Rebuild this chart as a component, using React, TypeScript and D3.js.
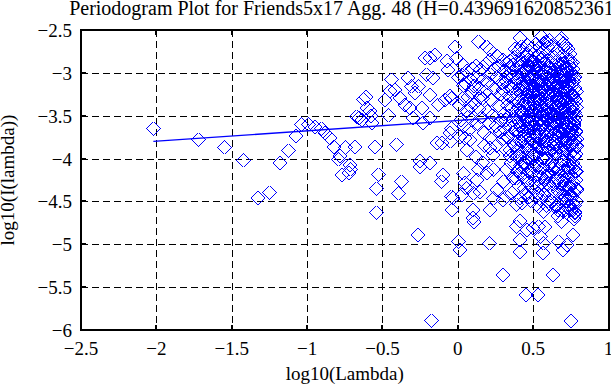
import React from 'react';
import * as d3 from 'd3';

const titleText = 'Periodogram Plot for Friends5x17 Agg. 48 (H=0.439691620852361)';
const xLabelText = 'log10(Lambda)';
const yLabelText = 'log10(I(lambda))';

const xTicks = [-2.5, -2, -1.5, -1, -0.5, 0, 0.5, 1];
const xTickLabels = ['\u22122.5', '\u22122', '\u22121.5', '\u22121', '\u22120.5', '0', '0.5', '1'];
const yTicks = [-6, -5.5, -5, -4.5, -4, -3.5, -3, -2.5];
const yTickLabels = ['\u22126', '\u22125.5', '\u22125', '\u22124.5', '\u22124', '\u22123.5', '\u22123', '\u22122.5'];

// least-squares fit line (log10 lambda, log10 I)
const fitLambda = [-2.02, 0.79];
const fitValues = [-3.8, -3.46];

// low-frequency, sparse part of the periodogram
const sparsePoints: [number, number][] = [
  [-2.02, -3.65], [-1.72, -3.78], [-1.549, -3.87], [-1.423, -4.02], [-1.323, -4.46], [-1.25, -4.4],
  [-1.18, -4.05], [-1.124, -3.91], [-1.073, -3.74], [-1.036, -3.6], [-0.99, -3.6], [-0.947, -3.63],
  [-0.906, -3.65], [-0.88, -3.7], [-0.848, -3.76], [-0.821, -3.86], [-0.793, -4.01], [-0.781, -3.97],
  [-0.77, -4.19], [-0.744, -3.87], [-0.72, -4.17], [-0.715, -4.07], [-0.71, -4.125], [-0.682, -3.86],
  [-0.67, -3.51], [-0.655, -3.53], [-0.638, -3.55], [-0.627, -3.31], [-0.609, -3.285], [-0.604, -3.41],
  [-0.582, -3.45], [-0.575, -3.507], [-0.571, -3.585], [-0.549, -3.86], [-0.538, -4.35], [-0.542, -4.63],
  [-0.527, -4.19], [-0.483, -3.313], [-0.46, -3.495], [-0.45, -3.216], [-0.438, -3.08], [-0.416, -3.196],
  [-0.405, -3.838], [-0.383, -3.294], [-0.372, -4.27], [-0.394, -4.405], [-0.35, -3.37], [-0.328, -3.06],
  [-0.317, -3.41], [-0.306, -3.157], [-0.295, -3.527], [-0.284, -3.235], [-0.262, -3.157], [-0.262, -4.892],
  [-0.25, -4.03], [-0.25, -4.095], [-0.24, -3.41], [-0.228, -3.585], [-0.217, -2.827], [-0.206, -3.02],
  [-0.184, -2.827], [-0.184, -3.255], [-0.184, -3.527], [-0.184, -4.05], [-0.173, -5.892], [-0.162, -3.06],
  [-0.151, -2.788], [-0.14, -3.818], [-0.129, -3.37], [-0.107, -3.82], [-0.107, -4.27], [-0.097, -4.19],
  [-0.085, -3.317], [-0.07, -2.86], [-0.065, -2.97], [-0.051, -3.8], [-0.05, -3.27], [-0.05, -3.7],
  [-0.04, -3.647], [-0.04, -3.297], [-0.04, -4.445], [-0.04, -4.6], [-0.03, -4.46], [-0.018, -2.694],
  [-0.007, -2.83],
];

// mid-frequency points
const midPoints: [number, number][] = [
  [0.004, -4.97], [0.015, -5.067], [0.015, -3.745], [0.026, -4.425], [0.035, -2.91], [0.037, -4.17],
  [0.038, -3.142], [0.048, -3.76], [0.048, -4.29], [0.059, -4.347], [0.07, -3.51], [0.081, -3.783],
  [0.093, -3.22], [0.1, -2.95], [0.1, -4.6], [0.1, -4.69], [0.103, -4.405], [0.11, -4.74], [0.126, -4.25],
  [0.136, -2.636], [0.136, -4.13], [0.148, -3.278], [0.148, -4.386], [0.192, -2.694], [0.192, -4.17],
  [0.21, -4.99], [0.214, -2.733], [0.214, -2.85], [0.214, -3.764], [0.214, -3.88], [0.214, -4.6],
  [0.236, -3.96], [0.236, -4.13], [0.236, -4.464], [0.258, -4.367], [0.26, -2.8], [0.28, -3.686],
  [0.298, -5.358], [0.3, -2.85], [0.3, -4.48], [0.302, -4.27], [0.325, -3.045], [0.325, -3.745],
  [0.325, -4.13], [0.325, -4.445], [0.347, -2.86], [0.347, -3.9], [0.347, -3.97], [0.368, -2.908],
  [0.368, -4.23], [0.39, -3.978], [0.39, -4.23], [0.39, -4.54], [0.39, -4.795], [0.4, -2.74],
  [0.413, -2.597], [0.413, -3.706], [0.413, -4.17], [0.413, -4.464], [0.413, -4.73], [0.413, -4.95],
  [0.413, -5.087], [0.424, -2.694], [0.453, -5.592], [0.457, -4.25], [0.457, -4.833], [0.468, -2.85],
  [0.5, -4.814], [0.512, -2.83], [0.524, -4.33], [0.535, -4.795], [0.535, -5.592], [0.535, -4.556],
  [0.547, -4.91], [0.557, -2.578], [0.565, -5.1], [0.567, -2.655], [0.568, -4.99], [0.58, -4.795],
  [0.634, -4.095], [0.634, -5.358], [0.657, -4.56], [0.667, -4.67], [0.668, -4.97], [0.69, -2.597],
  [0.69, -4.736], [0.7, -2.655], [0.7, -4.62], [0.7, -5.067], [0.723, -4.17], [0.723, -5.008],
  [0.745, -4.33], [0.75, -5.892], [0.762, -4.892], [0.778, -4.638], [0.778, -4.67], [0.79, -4.367],
  [0.005, -3.05], [0.012, -3.38], [0.02, -3.55], [0.028, -3.02], [0.033, -3.3], [0.042, -3.62],
  [0.05, -3.12], [0.056, -3.44], [0.063, -2.98], [0.069, -3.28], [0.076, -3.66], [0.083, -3.08],
  [0.088, -3.4], [0.094, -3.55], [0.108, -3.15], [0.114, -3.35], [0.12, -2.92], [0.126, -3.6],
  [0.131, -3.05], [0.14, -3.42], [0.145, -3.18], [0.153, -2.96], [0.158, -3.52], [0.163, -3.3],
  [0.17, -3.08], [0.176, -3.7], [0.182, -3.22], [0.187, -2.9], [0.196, -3.45], [0.202, -3.12],
  [0.207, -3.58], [0.219, -3.02], [0.225, -3.32], [0.23, -3.5], [0.24, -2.95], [0.245, -3.18],
  [0.252, -3.62], [0.262, -3.05], [0.268, -3.38], [0.274, -2.92], [0.283, -3.25], [0.288, -3.55],
  [0.293, -3.12], [0.296, -3.78], [0.176, -3.85], [0.06, -3.9], [0.12, -3.98], [0.255, -3.85],
  [0.165, -4.05],
];

// high-frequency, dense part
const densePoints: [number, number][] = [
  [0.302, -3.2], [0.305, -3.48], [0.308, -2.98], [0.311, -3.65], [0.314, -3.3], [0.317, -3.9],
  [0.32, -3.1], [0.323, -3.55], [0.327, -2.88], [0.33, -3.38], [0.333, -3.75], [0.336, -3.15],
  [0.339, -3.5], [0.342, -3.02], [0.345, -3.62], [0.348, -3.28], [0.351, -4.05], [0.354, -2.95],
  [0.357, -3.42], [0.36, -3.18], [0.363, -3.7], [0.366, -3.05], [0.369, -3.55], [0.372, -3.32],
  [0.375, -2.82], [0.378, -3.85], [0.381, -3.12], [0.384, -3.48], [0.387, -3.0], [0.39, -3.66],
  [0.393, -3.25], [0.396, -3.92], [0.399, -3.08], [0.402, -3.4], [0.405, -2.9], [0.408, -3.58],
  [0.411, -3.2], [0.414, -3.8], [0.417, -3.02], [0.42, -3.45], [0.423, -3.3], [0.426, -4.1],
  [0.429, -2.85], [0.432, -3.62], [0.435, -3.15], [0.438, -3.5], [0.441, -2.98], [0.444, -3.72],
  [0.447, -3.35], [0.45, -3.1], [0.453, -3.88], [0.456, -3.25], [0.459, -2.78], [0.462, -3.55],
  [0.465, -3.05], [0.468, -3.42], [0.471, -3.68], [0.474, -2.92], [0.477, -3.3], [0.48, -4.0],
  [0.483, -3.15], [0.486, -3.58], [0.489, -2.88], [0.492, -3.4], [0.495, -3.78], [0.498, -3.22],
  [0.44, -4.35], [0.47, -4.45], [0.36, -4.4], [0.485, -4.18], [0.395, -4.15], [0.445, -4.05],
  [0.38, -2.72], [0.46, -2.68], [0.49, -2.72], [0.43, -2.75],
  [0.502, -3.05], [0.504, -3.62], [0.506, -2.88], [0.508, -3.41], [0.51, -3.95], [0.512, -3.18],
  [0.514, -3.72], [0.516, -2.95], [0.518, -3.5], [0.52, -3.28], [0.522, -4.05], [0.524, -3.1],
  [0.526, -3.58], [0.528, -2.8], [0.53, -3.35], [0.532, -3.85], [0.534, -3.0], [0.536, -3.66],
  [0.538, -3.22], [0.54, -4.15], [0.542, -2.92], [0.544, -3.46], [0.546, -3.78], [0.548, -3.12],
  [0.55, -3.55], [0.552, -2.85], [0.554, -3.3], [0.556, -3.9], [0.558, -3.08], [0.56, -3.7],
  [0.562, -3.4], [0.564, -2.76], [0.566, -3.6], [0.568, -3.2], [0.57, -4.0], [0.572, -3.02],
  [0.574, -3.48], [0.576, -3.82], [0.578, -2.98], [0.58, -3.36], [0.582, -3.65], [0.584, -3.15],
  [0.586, -4.22], [0.588, -2.9], [0.59, -3.52], [0.592, -3.25], [0.594, -3.75], [0.596, -3.05],
  [0.598, -3.42], [0.6, -2.7], [0.602, -3.88], [0.604, -3.18], [0.606, -3.58], [0.608, -3.0],
  [0.61, -3.32], [0.612, -4.08], [0.614, -2.86], [0.616, -3.68], [0.618, -3.45], [0.62, -3.12],
  [0.622, -3.8], [0.624, -2.95], [0.626, -3.38], [0.628, -3.62], [0.63, -3.22], [0.632, -4.3],
  [0.634, -3.05], [0.636, -3.5], [0.638, -2.82], [0.64, -3.72], [0.642, -3.28], [0.644, -3.95],
  [0.646, -3.1], [0.648, -3.55], [0.65, -2.92], [0.652, -3.4], [0.654, -3.85], [0.656, -3.15],
  [0.658, -3.65], [0.66, -2.74], [0.662, -3.3], [0.664, -4.12], [0.666, -3.02], [0.668, -3.48],
  [0.67, -3.76], [0.672, -3.2], [0.674, -2.88], [0.676, -3.58], [0.678, -3.35], [0.68, -4.4],
  [0.682, -3.08], [0.684, -3.7], [0.686, -2.98], [0.688, -3.44], [0.69, -3.9], [0.692, -3.25],
  [0.694, -2.8], [0.696, -3.62], [0.698, -3.12], [0.7, -4.02], [0.7015, -3.38], [0.703, -2.9],
  [0.7045, -3.78], [0.706, -3.52], [0.7075, -3.05], [0.709, -4.25], [0.7105, -3.3], [0.712, -2.72],
  [0.7135, -3.66], [0.715, -3.18], [0.7165, -3.88], [0.718, -3.45], [0.7195, -2.95], [0.721, -4.5],
  [0.7225, -3.22], [0.724, -3.6], [0.7255, -3.0], [0.727, -3.8], [0.7285, -3.35], [0.73, -4.1],
  [0.7315, -2.85], [0.733, -3.5], [0.7345, -3.15], [0.736, -3.72], [0.7375, -4.35], [0.739, -3.08],
  [0.7405, -3.42], [0.742, -2.78], [0.7435, -3.95], [0.745, -3.28], [0.7465, -3.65], [0.748, -4.2],
  [0.7495, -3.02], [0.751, -3.55], [0.7525, -2.9], [0.754, -3.85], [0.7555, -3.38], [0.757, -4.45],
  [0.7585, -3.12], [0.76, -3.7], [0.7615, -3.25], [0.763, -4.05], [0.7645, -2.96], [0.766, -3.58],
  [0.7675, -4.28], [0.769, -3.45], [0.7705, -3.1], [0.772, -3.9], [0.7735, -3.62], [0.775, -4.55],
  [0.7765, -3.3], [0.778, -3.78], [0.7795, -3.05], [0.781, -4.15], [0.7825, -3.5], [0.784, -3.95],
  [0.7855, -3.68], [0.787, -4.35], [0.7885, -3.4], [0.79, -3.85], [0.779, -4.62], [0.771, -4.7],
  [0.764, -4.52], [0.754, -4.6], [0.745, -4.42], [0.734, -4.58], [0.7225, -4.3], [0.711, -4.45],
  [0.7, -4.35], [0.685, -4.2], [0.665, -4.38], [0.648, -4.25], [0.62, -4.4], [0.598, -4.18],
  [0.575, -4.32], [0.555, -4.22], [0.53, -4.4], [0.515, -4.28], [0.61, -2.62], [0.63, -2.68],
  [0.585, -2.64], [0.675, -2.62], [0.715, -2.68], [0.73, -2.72], [0.745, -2.85], [0.76, -2.88],
  [0.545, -2.7], [0.52, -2.66], [0.655, -4.55], [0.69, -4.6], [0.6, -4.5], [0.57, -4.62],
];

// highest frequencies: the solid band of the cloud
const bandPoints: [number, number][] = [
  [0.401, -3.34], [0.403, -3.88], [0.405, -3.06], [0.407, -3.52], [0.409, -2.94], [0.411, -3.71],
  [0.413, -3.16], [0.415, -3.98], [0.417, -3.43], [0.419, -2.84], [0.421, -3.62], [0.423, -3.24],
  [0.425, -3.81], [0.427, -3.01], [0.429, -3.47], [0.431, -3.93], [0.433, -3.13], [0.435, -3.67],
  [0.437, -2.89], [0.439, -3.38], [0.441, -4.06], [0.443, -3.19], [0.445, -3.56], [0.447, -3.03],
  [0.449, -3.76], [0.451, -3.29], [0.453, -2.97], [0.455, -3.84], [0.457, -3.44], [0.459, -3.11],
  [0.461, -3.64], [0.463, -2.91], [0.465, -3.99], [0.467, -3.36], [0.469, -3.58], [0.471, -3.07],
  [0.473, -3.73], [0.475, -3.21], [0.477, -2.86], [0.479, -3.49],
  [0.481, -3.91], [0.483, -3.27], [0.485, -3.63], [0.487, -2.93], [0.489, -3.45], [0.491, -3.79],
  [0.493, -3.09], [0.495, -3.55], [0.497, -4.02], [0.499, -3.17], [0.501, -2.87], [0.503, -3.69],
  [0.505, -3.33], [0.507, -3.86], [0.509, -3.04], [0.511, -3.51], [0.513, -3.23], [0.515, -3.97],
  [0.517, -2.99], [0.519, -3.41], [0.521, -3.74], [0.523, -3.14], [0.525, -3.59], [0.527, -2.9],
  [0.529, -3.83], [0.531, -3.31], [0.533, -3.66], [0.535, -3.0], [0.537, -3.47], [0.539, -4.08],
  [0.541, -3.2], [0.543, -3.61], [0.545, -2.95], [0.547, -3.37], [0.549, -3.89], [0.551, -3.1],
  [0.553, -3.53], [0.555, -3.77], [0.557, -3.26], [0.559, -2.83],
  [0.561, -3.58], [0.563, -3.02], [0.565, -3.86], [0.567, -3.24], [0.569, -3.68], [0.571, -2.9],
  [0.573, -3.44], [0.575, -3.96], [0.577, -3.13], [0.579, -3.5], [0.581, -2.98], [0.583, -3.8],
  [0.585, -3.32], [0.587, -3.64], [0.589, -3.06], [0.591, -4.0], [0.593, -3.39], [0.595, -2.86],
  [0.597, -3.73], [0.599, -3.18], [0.601, -3.54], [0.603, -3.91], [0.605, -3.08], [0.607, -3.46],
  [0.609, -2.94], [0.611, -3.7], [0.613, -3.26], [0.615, -3.83], [0.617, -3.11], [0.619, -3.6],
  [0.621, -2.88], [0.623, -3.35], [0.625, -4.04], [0.627, -3.21], [0.629, -3.66], [0.631, -3.0],
  [0.633, -3.48], [0.635, -3.87], [0.637, -3.15], [0.639, -3.57],
  [0.641, -3.14], [0.643, -3.78], [0.645, -2.97], [0.647, -3.49], [0.649, -3.92], [0.651, -3.27],
  [0.653, -3.61], [0.655, -2.87], [0.657, -3.4], [0.659, -3.84], [0.661, -3.05], [0.663, -3.56],
  [0.665, -3.19], [0.667, -3.99], [0.669, -3.33], [0.671, -2.92], [0.673, -3.69], [0.675, -3.1],
  [0.677, -3.52], [0.679, -3.87], [0.681, -3.23], [0.683, -2.99], [0.685, -3.64], [0.687, -3.36],
  [0.689, -4.07], [0.691, -3.03], [0.693, -3.47], [0.695, -3.75], [0.697, -3.16], [0.699, -2.89],
  [0.701, -3.57], [0.703, -3.3], [0.705, -3.95], [0.707, -3.09], [0.709, -3.42], [0.711, -3.81],
  [0.713, -3.2], [0.715, -2.95], [0.717, -3.67], [0.719, -3.5],
  [0.721, -3.63], [0.723, -3.07], [0.7245, -3.88], [0.7265, -3.31], [0.728, -3.54], [0.73, -2.98],
  [0.7315, -3.76], [0.7335, -3.2], [0.735, -4.03], [0.737, -3.44], [0.7385, -3.12], [0.74, -3.7],
  [0.742, -2.93], [0.7435, -3.58], [0.7455, -3.35], [0.747, -3.94], [0.749, -3.04], [0.7505, -3.5],
  [0.7525, -3.82], [0.754, -3.25], [0.756, -3.66], [0.7575, -3.0], [0.7595, -4.1], [0.761, -3.4],
  [0.763, -3.15], [0.7645, -3.73], [0.7665, -3.28], [0.768, -3.9], [0.77, -3.06], [0.7715, -3.6],
  [0.7735, -3.46], [0.775, -3.98], [0.777, -3.18], [0.7785, -3.55], [0.7805, -3.85], [0.782, -3.33],
  [0.784, -3.69], [0.7855, -4.15], [0.7875, -3.22], [0.789, -3.77],
  [0.405, -4.32], [0.418, -4.08], [0.428, -4.52], [0.436, -4.22], [0.449, -4.12], [0.458, -4.42],
  [0.466, -4.28], [0.478, -4.15], [0.488, -4.5], [0.497, -4.35], [0.507, -4.1], [0.517, -4.45],
  [0.527, -4.2], [0.537, -4.32], [0.547, -4.48], [0.559, -4.12], [0.569, -4.42], [0.579, -4.25],
  [0.589, -4.55], [0.599, -4.3], [0.611, -4.18], [0.621, -4.5], [0.633, -4.12], [0.643, -4.38],
  [0.653, -4.22], [0.663, -4.6], [0.673, -4.28], [0.683, -4.5], [0.693, -4.15], [0.703, -4.42],
  [0.713, -4.6], [0.719, -4.22], [0.728, -4.4], [0.735, -4.12], [0.743, -4.55], [0.75, -4.3],
  [0.758, -4.2], [0.765, -4.6], [0.773, -4.4], [0.782, -4.25], [0.786, -4.5], [0.777, -4.1],
];

const W = 611;
const H = 385;
const plot = { left: 81, right: 608.5, top: 30, bottom: 330 };
const FONT = '"Liberation Serif", "Times New Roman", serif';
const BLUE = '#0000ff';

export default function App() {
  const x = d3.scaleLinear().domain([-2.5, 1]).range([plot.left, plot.right]);
  const y = d3.scaleLinear().domain([-6, -2.5]).range([plot.bottom, plot.top]);
  const diamond = d3.symbol().type(d3.symbolSquare).size(98)() as string;
  const line = d3.line<number>().x((d) => x(d)).y((_, i) => y(fitValues[i]));
  const all = [...sparsePoints, ...midPoints, ...densePoints, ...bandPoints];
  const tickLen = 5;

  return (
    <svg width={W} height={H} style={{ position: 'absolute', left: 0, top: 0, background: '#fff' }}
      fontFamily={FONT}>
      <rect x={0} y={0} width={W} height={H} fill="#fff" />
      {/* grid */}
      <g stroke="#000" strokeWidth={1} strokeDasharray="7,4" shapeRendering="crispEdges">
        {xTicks.slice(1, -1).map((t) => (
          <line key={'gx' + t} x1={Math.round(x(t)) + 0.5} x2={Math.round(x(t)) + 0.5} y1={plot.top} y2={plot.bottom} />
        ))}
        {yTicks.slice(1, -1).map((t) => (
          <line key={'gy' + t} y1={Math.round(y(t)) + 0.5} y2={Math.round(y(t)) + 0.5} x1={plot.left} x2={plot.right} />
        ))}
      </g>
      {/* points */}
      <g fill="none" stroke={BLUE} strokeWidth={1} shapeRendering="crispEdges">
        {all.map((p, i) => (
          <path key={i} d={diamond} transform={`translate(${x(p[0])},${y(p[1])}) rotate(45)`} />
        ))}
      </g>
      {/* fit line */}
      <path d={line(fitLambda) as string} fill="none" stroke={BLUE} strokeWidth={1.3} />
      {/* axes box and ticks */}
      <g stroke="#000" strokeWidth={2} fill="none" shapeRendering="crispEdges">
        <rect x={plot.left} y={plot.top} width={plot.right - plot.left} height={plot.bottom - plot.top} />
        {xTicks.map((t) => (
          <g key={'tx' + t}>
            <line x1={x(t)} x2={x(t)} y1={plot.bottom} y2={plot.bottom - tickLen} />
            <line x1={x(t)} x2={x(t)} y1={plot.top} y2={plot.top + tickLen} />
          </g>
        ))}
        {yTicks.map((t) => (
          <g key={'ty' + t}>
            <line y1={y(t)} y2={y(t)} x1={plot.left} x2={plot.left + tickLen} />
            <line y1={y(t)} y2={y(t)} x1={plot.right} x2={plot.right - tickLen} />
          </g>
        ))}
      </g>
      {/* tick labels */}
      <g fontSize={19} fill="#000">
        {xTicks.map((t, i) => (
          <text key={'lx' + t} x={x(t)} y={plot.bottom + 25} textAnchor="middle">{xTickLabels[i]}</text>
        ))}
        {yTicks.map((t, i) => (
          <text key={'ly' + t} x={plot.left - 9} y={y(t) + 7} textAnchor="end">{yTickLabels[i]}</text>
        ))}
      </g>
      <text x={(plot.left + plot.right) / 2} y={380} textAnchor="middle" fontSize={19}>{xLabelText}</text>
      <text transform={`translate(14,${(plot.top + plot.bottom) / 2}) rotate(-90)`} textAnchor="middle" fontSize={19}>{yLabelText}</text>
      <text x={(plot.left + plot.right) / 2} y={15} textAnchor="middle" fontSize={20}>{titleText}</text>
    </svg>
  );
}
